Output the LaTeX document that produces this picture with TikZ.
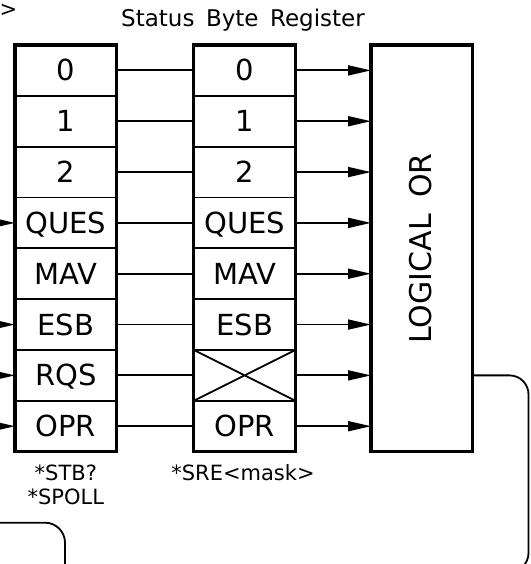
\documentclass[tikz,border=0pt]{standalone}
\usepackage{fontspec}
\setmainfont{DejaVu Sans}
\usetikzlibrary{arrows.meta}
\begin{document}
\begin{tikzpicture}[x=1pt,y=-1pt,
  cell/.style={draw, line width=1.8pt, minimum width=101.7pt, minimum height=50.83pt,
    inner sep=0pt, outer sep=0pt, text height=21pt, text depth=0pt,
    font=\fontsize{29}{34}\selectfont},
  frame/.style={line width=3.3pt},
  wire/.style={line width=1.8pt},
  arr/.style={wire, -{Triangle[length=23pt,width=10pt]}},
  lbl/.style={font=\fontsize{21}{25}\selectfont, inner sep=0pt}]
\useasboundingbox (0,0) rectangle (530,564);
\clip (0,0) rectangle (530,564);

% title and marker
\node[lbl] (gt) at (8.5,10.5) {>};
\node[font=\fontsize{23}{27}\selectfont, inner sep=0pt, anchor=base] (title) at (243,26.7) {Status\hspace{0.5em}Byte\hspace{0.5em}Register};

% left register (status byte)
\foreach \t [count=\i from 0] in {0,1,2,QUES,MAV,ESB,RQS,OPR} {
  \node[cell] (L\i) at (65.85, 70.4+50.83*\i) {\t};
}
% middle register (service request enable)
\foreach \t [count=\i from 0] in {0,1,2,QUES,MAV,ESB,{},OPR} {
  \node[cell] (M\i) at (244.65, 70.4+50.83*\i) {\t};
}
\draw[line width=1.8pt] (M6.north west) -- (M6.south east) (M6.south west) -- (M6.north east);
\draw[frame] (L0.north west) rectangle (L7.south east);
\draw[frame] (M0.north west) rectangle (M7.south east);

% logical OR
\node[draw, frame, minimum width=101.7pt, minimum height=406.7pt, outer sep=0pt, inner sep=0pt] (OR) at (421.85, 248.3) {};
\node[rotate=90, font=\fontsize{30}{36}\selectfont, inner sep=0pt] (ortext) at (421, 248.5) {LOGICAL\hspace{0.55em}OR};

% connectors
\foreach \i in {0,...,7} {
  \draw[wire] (L\i.east) -- (M\i.west);
  \draw[arr] (M\i.east) -- (M\i.east -| OR.west);
}
\foreach \i in {3,5,6,7} {
  \coordinate (in\i) at (-12, 70.4+50.83*\i);
  \draw[arr] (in\i) -- (L\i.west);
}

% labels
\node[lbl, anchor=base] (stb) at (65.85,480) {*STB?};
\node[lbl, anchor=base] (spoll) at (65.85,504) {*SPOLL};
\node[lbl, anchor=base] (sre) at (243,480) {*SRE<mask>};

% loops
\coordinate (bl1) at (-10,522.7);
\coordinate (bl2) at (65,522.7);
\coordinate (bl3) at (65,600);
\draw[wire, rounded corners=20pt] (bl1) -- (bl2) -- (bl3);
\coordinate (r1) at (528.5,375.4);
\coordinate (r2) at (528.5,572);
\coordinate (r3) at (450,572);
\draw[wire, rounded corners=19pt] (OR.east |- M6.east) -- (r1) -- (r2) -- (r3);
\end{tikzpicture}
\end{document}
